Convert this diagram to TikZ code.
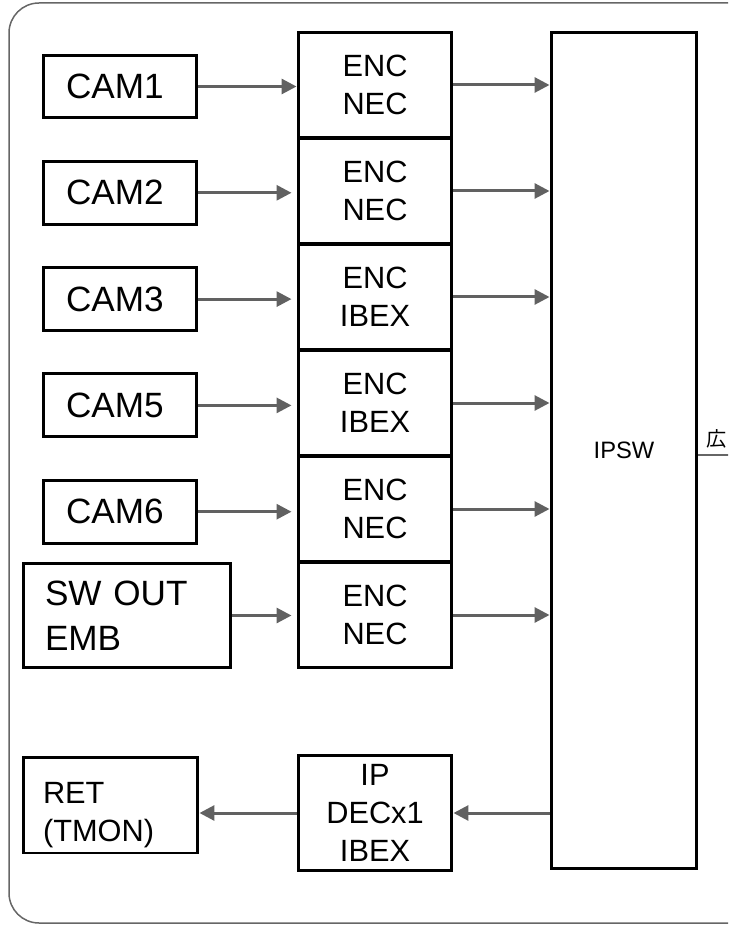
\documentclass[tikz,border=0pt]{standalone}
\usepackage{fontspec}
\setmainfont{Liberation Sans}
\newfontfamily\jpfont{Noto Sans CJK JP}
\usetikzlibrary{arrows.meta}
\tikzset{
  box/.style={draw,line width=0.06cm,inner sep=0pt,align=center},
  cambox/.style={box,minimum width=3.08cm,minimum height=1.26cm,text width=2.16cm,align=left,font=\fontsize{20}{24}\selectfont},
  encbox/.style={box,minimum width=3.08cm,minimum height=2.12cm,font=\fontsize{17.5}{21.7}\selectfont},
  arr/.style={draw=black!62,line width=0.06cm,-{Triangle[length=0.3cm,width=0.3cm]}}
}
\begin{document}
\begin{tikzpicture}[x=0.02cm,y=-0.02cm]
    \useasboundingbox (0,0) rectangle (728,925);
    \clip (0,0) rectangle (728,925);

    % frame
    \draw[black!60,line width=0.03cm,rounded corners=0.6cm] (9,3) rectangle (790,923);

    % switch
    \node[box,minimum width=2.92cm,minimum height=16.74cm,font=\fontsize{13.5}{16}\selectfont] (ipsw) at (624,450.5) {\raisebox{-0.08cm}{IPSW}};

    % encoders
    \foreach \i/\lbl in {1/NEC,2/NEC,3/IBEX,4/IBEX,5/NEC,6/NEC}
        \node[encbox] (enc\i) at (375,{32+106*(\i-0.5)}) {ENC\\\lbl};

    % cameras
    \foreach \i/\cam in {1/CAM1,2/CAM2,3/CAM3,4/CAM5,5/CAM6}
        \node[cambox] (cam\i) at (120,{86.5+106.3*(\i-1)}) {\cam};
    \node[box,minimum width=4.16cm,minimum height=2.1cm,text width=3.28cm,align=left,
          font=\fontsize{20}{25.5}\selectfont] (cam6) at (127,615.5) {SW OUT\\EMB};

    % return
    \node[encbox,minimum height=2.3cm] (dec) at (375,813) {IP\\DECx1\\IBEX};
    \node[box,minimum width=3.5cm,minimum height=1.92cm] (ret) at (110.5,805) {};
    \node[text width=2.7cm,align=left,inner sep=0pt,font=\fontsize{17.5}{21.5}\selectfont]
        (rettext) at ([yshift=-0.2cm]ret) {RET\\(TMON)};

    \draw[arr] (cam1.east) -- (cam1.east -| enc1.west);
    \foreach \i in {2,...,6}
        \draw[arr,shorten >=0.1cm] (cam\i.east) -- (cam\i.east -| enc\i.west);
    \foreach \i in {1,...,6}
        \draw[arr] (enc\i.east) -- (enc\i.east -| ipsw.west);
    \draw[arr] (dec.east -| ipsw.west) -- (dec.east);
    \draw[arr] (dec.west) -- (dec.west -| ret.east);

    % cut-off line to the right
    \coordinate (edge) at (740,455);
    \draw[black!60,line width=0.03cm] (edge -| ipsw.east) -- (edge);
    \node[anchor=south west,inner sep=0pt,font=\jpfont\fontsize{11.5}{13}\selectfont] (ko) at (706,449) {広};
\end{tikzpicture}
\end{document}
